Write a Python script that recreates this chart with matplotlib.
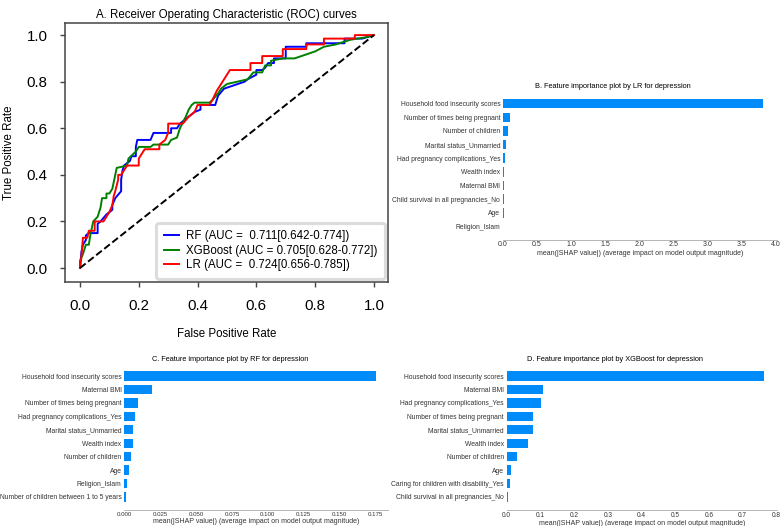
import numpy as np
from matplotlib import pyplot as plt

plt.rcParams['font.family'] = ['Liberation Sans', 'DejaVu Sans']

# ROC curves, as (fpr, tpr) vertices
roc_rf = [(0.0, 0.0), (0.005, 0.07), (0.01, 0.10), (0.02, 0.12), (0.02, 0.14), (0.03, 0.15),
          (0.06, 0.15), (0.06, 0.19), (0.07, 0.20), (0.09, 0.23), (0.10, 0.24), (0.11, 0.25),
          (0.11, 0.27), (0.12, 0.30), (0.14, 0.33), (0.14, 0.38), (0.145, 0.42), (0.15, 0.44),
          (0.17, 0.46), (0.175, 0.48), (0.19, 0.48), (0.19, 0.52), (0.195, 0.55), (0.24, 0.55),
          (0.25, 0.58), (0.31, 0.58), (0.31, 0.60), (0.33, 0.60), (0.34, 0.62), (0.36, 0.64),
          (0.37, 0.65), (0.39, 0.67), (0.41, 0.68), (0.41, 0.70), (0.46, 0.70), (0.47, 0.74),
          (0.49, 0.77), (0.56, 0.80), (0.57, 0.81), (0.60, 0.83), (0.60, 0.85), (0.62, 0.85),
          (0.63, 0.86), (0.64, 0.88), (0.66, 0.88), (0.66, 0.90), (0.70, 0.90), (0.70, 0.95),
          (0.77, 0.95), (0.77, 0.965), (0.90, 0.965), (0.90, 0.985), (0.96, 0.985), (1.0, 1.0)]

roc_xgb = [(0.0, 0.0), (0.0, 0.03), (0.01, 0.06), (0.02, 0.10), (0.03, 0.10), (0.035, 0.14),
           (0.045, 0.20), (0.06, 0.22), (0.07, 0.26), (0.075, 0.30), (0.09, 0.30), (0.09, 0.32),
           (0.10, 0.32), (0.11, 0.34), (0.12, 0.40), (0.125, 0.43), (0.16, 0.44), (0.165, 0.47),
           (0.19, 0.50), (0.20, 0.52), (0.24, 0.52), (0.25, 0.53), (0.30, 0.53), (0.31, 0.55),
           (0.33, 0.56), (0.34, 0.60), (0.36, 0.65), (0.37, 0.68), (0.38, 0.70), (0.39, 0.71),
           (0.44, 0.71), (0.45, 0.72), (0.47, 0.75), (0.48, 0.77), (0.50, 0.79), (0.57, 0.81),
           (0.59, 0.84), (0.62, 0.84), (0.63, 0.87), (0.65, 0.87), (0.65, 0.89), (0.69, 0.90),
           (0.73, 0.90), (0.80, 0.93), (0.83, 0.95), (0.87, 0.96), (0.92, 0.98), (0.97, 0.99),
           (1.0, 1.0)]

roc_lr = [(0.0, 0.0), (0.005, 0.05), (0.01, 0.13), (0.025, 0.13), (0.03, 0.16), (0.05, 0.16),
          (0.05, 0.20), (0.08, 0.20), (0.09, 0.22), (0.10, 0.24), (0.11, 0.27), (0.115, 0.31),
          (0.12, 0.33), (0.13, 0.38), (0.13, 0.40), (0.14, 0.40), (0.15, 0.42), (0.16, 0.44),
          (0.20, 0.44), (0.20, 0.47), (0.21, 0.49), (0.22, 0.51), (0.27, 0.51), (0.27, 0.53),
          (0.29, 0.55), (0.30, 0.58), (0.30, 0.62), (0.35, 0.62), (0.37, 0.65), (0.39, 0.67),
          (0.40, 0.70), (0.44, 0.70), (0.45, 0.72), (0.465, 0.76), (0.48, 0.79), (0.50, 0.83),
          (0.51, 0.85), (0.58, 0.85), (0.58, 0.88), (0.62, 0.88), (0.62, 0.91), (0.69, 0.91),
          (0.69, 0.94), (0.77, 0.94), (0.77, 0.96), (0.83, 0.96), (0.83, 0.985), (0.935, 0.985),
          (0.935, 1.0), (1.0, 1.0)]

legend_rf = 'RF (AUC =  0.711[0.642-0.774])'
legend_xgb = 'XGBoost (AUC = 0.705[0.628-0.772])'
legend_lr = 'LR (AUC =  0.724[0.656-0.785])'

# SHAP feature importance, top to bottom as shown
feat_lr = ['Household food insecurity scores', 'Number of times being pregnant',
           'Number of children', 'Marital status_Unmarried', 'Had pregnancy complications_Yes',
           'Wealth index', 'Maternal BMI', 'Child survival in all pregnancies_No', 'Age',
           'Religion_Islam']
shap_lr = [3.82, 0.10, 0.07, 0.04, 0.03, 0.02, 0.015, 0.012, 0.009, 0.006]

feat_rf = ['Household food insecurity scores', 'Maternal BMI', 'Number of times being pregnant',
           'Had pregnancy complications_Yes', 'Marital status_Unmarried', 'Wealth index',
           'Number of children', 'Age', 'Religion_Islam', 'Number of children between 1 to 5 years']
shap_rf = [0.175, 0.019, 0.0093, 0.0072, 0.006, 0.0058, 0.0049, 0.0035, 0.0019, 0.0009]

feat_xgb = ['Household food insecurity scores', 'Maternal BMI', 'Had pregnancy complications_Yes',
            'Number of times being pregnant', 'Marital status_Unmarried', 'Wealth index',
            'Number of children', 'Age', 'Caring for children with disability_Yes',
            'Child survival in all pregnancies_No']
shap_xgb = [0.764, 0.107, 0.101, 0.078, 0.078, 0.062, 0.031, 0.012, 0.010, 0.003]

ticks_lr = [0.0, 0.5, 1.0, 1.5, 2.0, 2.5, 3.0, 3.5, 4.0]
ticks_rf = [0.0, 0.025, 0.05, 0.075, 0.1, 0.125, 0.15, 0.175]
ticks_xgb = [0.0, 0.1, 0.2, 0.3, 0.4, 0.5, 0.6, 0.7, 0.8]

fig = plt.figure(figsize=(7.8, 5.26), dpi=100)

############################################################################
# A. ROC curves
ax = fig.add_axes([65 / 780, 1 - 282 / 526, 323 / 780, 259 / 526])
for pts, col, lab in [(roc_rf, 'blue', legend_rf), (roc_xgb, 'green', legend_xgb),
                      (roc_lr, 'red', legend_lr)]:
    xs, ys = np.array(pts).T
    ax.plot(xs, ys, color=col, lw=1.4, label=lab)
ax.plot([0, 1], [0, 1], 'k--', lw=1.4)
ax.set_xlim(-0.051, 1.048)
ax.set_ylim(-0.06, 1.052)
ax.set_xticks([0.0, 0.2, 0.4, 0.6, 0.8, 1.0])
ax.set_yticks([0.0, 0.2, 0.4, 0.6, 0.8, 1.0])
ax.tick_params(labelsize=10.8, length=3.5, width=1, color='#444444', pad=9)
for sp in ax.spines.values():
    sp.set_color('#444444')
    sp.set_linewidth(1.1)
ax.set_xlabel('False Positive Rate', fontsize=8.3, labelpad=10.5)
ax.set_ylabel('True Positive Rate', fontsize=8.3, labelpad=8)
ax.set_title('A. Receiver Operating Characteristic (ROC) curves', fontsize=8.3, pad=3.5)
leg = ax.legend(loc='lower right', fontsize=8.3, edgecolor='#d4d4d4', fancybox=True,
                handlelength=1.3, handletextpad=0.6, borderpad=0.65, labelspacing=0.2,
                borderaxespad=0.3)
leg.get_frame().set_linewidth(2.2)


############################################################################
# B, C, D. SHAP bar plots
def shap_bar(rect, feats, vals, ticks, xmax, fmt, title, tick_size):
    ax = fig.add_axes(rect)
    pos = np.arange(len(feats))
    ax.barh(pos, vals[::-1], 0.7, align='center', color='#008bfb')
    ax.set_yticks(pos)
    ax.set_yticklabels(feats[::-1], fontsize=4.9, color='#333333')
    ax.set_ylim(-1, len(feats))
    ax.set_xlim(0, xmax)
    ax.set_xticks(ticks)
    ax.set_xticklabels([fmt % t for t in ticks], fontsize=tick_size, color='#333333')
    ax.tick_params('y', length=0, pad=2)
    ax.tick_params('x', length=0, pad=1, color='#333333')
    for sp in ['top', 'right', 'left']:
        ax.spines[sp].set_visible(False)
    ax.spines['bottom'].set_color('#aaaaaa')
    ax.spines['bottom'].set_linewidth(0.6)
    ax.set_xlabel('mean(|SHAP value|) (average impact on model output magnitude)',
                  fontsize=5.0, color='#333333', labelpad=1)
    ax.set_title(title, fontsize=5.3, x=0.40, pad=1.5)
    return ax


shap_bar([503 / 780, 1 - 240 / 526, 274 / 780, 150 / 526], feat_lr, shap_lr, ticks_lr,
         4.02, '%.1f', 'B. Feature importance plot by LR for depression', 5.0)
shap_bar([124.3 / 780, 1 - 510.4 / 526, 263.7 / 780, 147.8 / 526], feat_rf, shap_rf, ticks_rf,
         0.1837, '%.3f', 'C. Feature importance plot by RF for depression', 4.4)
shap_bar([506.7 / 780, 1 - 510.4 / 526, 270.3 / 780, 147.8 / 526], feat_xgb, shap_xgb, ticks_xgb,
         0.802, '%.1f', 'D. Feature importance plot by XGBoost for depression', 4.7)

plt.savefig('out.png', dpi=100)
